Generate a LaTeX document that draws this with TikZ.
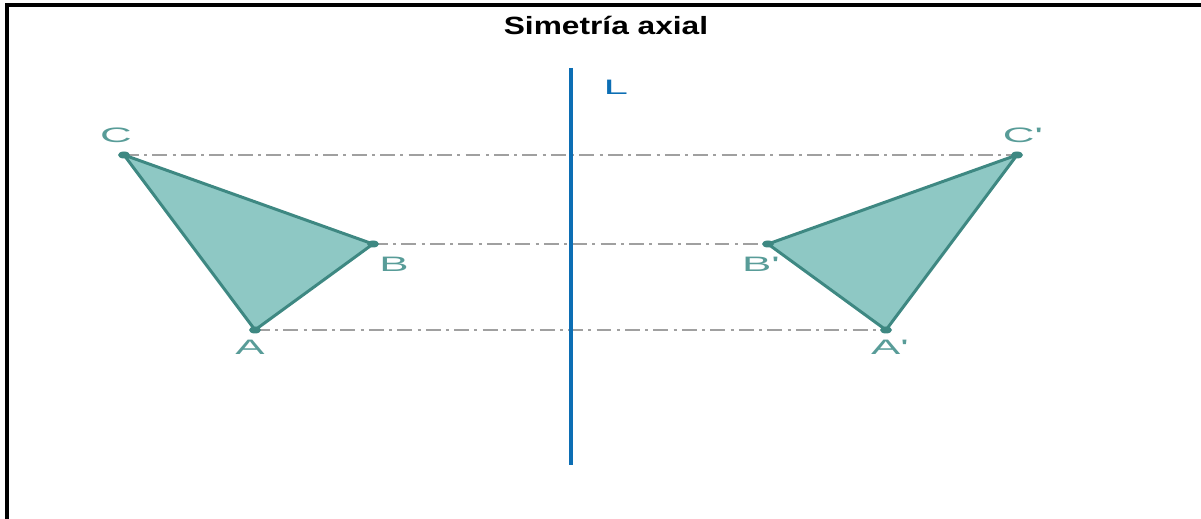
\documentclass[tikz,border=0pt]{standalone}
\usepackage{fontspec}
\setmainfont{Liberation Sans}
\usepackage{xcolor}
\usetikzlibrary{positioning}

\definecolor{axisblue}{RGB}{12,110,180}
\definecolor{triedge}{RGB}{62,136,130}
\definecolor{trifill}{RGB}{142,200,196}
\definecolor{lbltext}{RGB}{88,156,152}
\definecolor{guidegray}{RGB}{160,160,160}

\tikzset{
    lbl/.style={text=lbltext, anchor=base, xscale=2.1, transform shape, font=\fontsize{11.9pt}{12pt}\selectfont, inner sep=0pt},
    guide/.style={guidegray, line width=0.6pt, dash pattern=on 8.5pt off 3pt on 1.7pt off 3pt},
    tri/.style={draw=triedge, fill=trifill, line width=1.7pt, line join=round},
}

\begin{document}
\begin{tikzpicture}[x=0.02cm, y=-0.02cm]
    \useasboundingbox (0,0) rectangle (1201,519);
    % frame (top and left only)
    \draw[line width=2.3pt] (7,519) -- (7,5) -- (1201,5);
    \node[anchor=base, font=\fontsize{14.2pt}{15pt}\selectfont\bfseries, xscale=1.27, transform shape] (title) at (606,35) {Simetría axial};

    % vertices
    \coordinate (C) at (124,155);
    \coordinate (B) at (373,244);
    \coordinate (A) at (255,330);
    \coordinate (C') at (1017,155);
    \coordinate (B') at (768,244);
    \coordinate (A') at (886,330);

    % dash-dot guides between a point and its image
    \draw[guide] (C) -- (C');
    \draw[guide] (B) -- (B');
    \draw[guide] (A) -- (A');

    % axis of symmetry
    \coordinate (Ltop) at (571,68);
    \coordinate (Lbot) at (571,465);
    \draw[axisblue, line width=2.4pt] (Ltop) -- (Lbot);
    \node[lbl, text=axisblue, anchor=base west] (Llbl) at (603,95) {L};

    % triangles
    \filldraw[tri] (A) -- (B) -- (C) -- cycle;
    \filldraw[tri] (A') -- (B') -- (C') -- cycle;
    \foreach \p in {A,B,C,A',B',C'}
        \fill[triedge] (\p) ellipse [x radius=6, y radius=3.5];

    % labels
    \node[lbl] (Clbl) at (116,143) {C};
    \node[lbl] (Blbl) at (394,272) {B};
    \node[lbl] (Albl) at (250,355) {A};
    \node[lbl] (C'lbl) at (1023,143) {C\textquotesingle};
    \node[lbl] (B'lbl) at (761,272) {B\textquotesingle};
    \node[lbl] (A'lbl) at (890,355) {A\textquotesingle};
\end{tikzpicture}
\end{document}
